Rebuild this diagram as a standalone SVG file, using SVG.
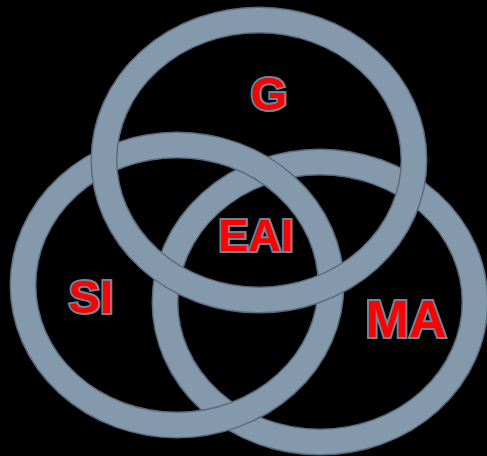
<svg xmlns="http://www.w3.org/2000/svg" width="487" height="456" viewBox="0 0 487 456">
<style>
.edge{fill:none;stroke:#5b6c7e;stroke-width:27}
.band{fill:none;stroke:#8599ad;stroke-width:24}
.lbl{font-family:"Liberation Sans",Arial,sans-serif;font-weight:bold;fill:#ff0000;stroke:#6f8499;stroke-width:4;paint-order:stroke;text-anchor:middle}
</style>
<rect x="0" y="0" width="487" height="456" fill="#000000"/>
<g id="ring-MA">
<ellipse class="edge" cx="320" cy="302" rx="155" ry="140"/>
<ellipse class="band" cx="320" cy="302" rx="155" ry="140"/>
</g>
<g id="ring-SI">
<ellipse class="edge" cx="177" cy="285" rx="154" ry="140"/>
<ellipse class="band" cx="177" cy="285" rx="154" ry="140"/>
</g>
<g id="ring-G">
<ellipse class="edge" cx="259" cy="160" rx="155" ry="140"/>
<ellipse class="band" cx="259" cy="160" rx="155" ry="140"/>
</g>
<g id="labels">
<text id="label-G" class="lbl" x="269" y="110" font-size="47">G</text>
<text id="label-EAI" class="lbl" x="256" y="251" font-size="45">EAI</text>
<text id="label-SI" class="lbl" x="91" y="313" font-size="47">SI</text>
<text id="label-MA" class="lbl" x="406" y="337" font-size="52">MA</text>
</g>
</svg>
